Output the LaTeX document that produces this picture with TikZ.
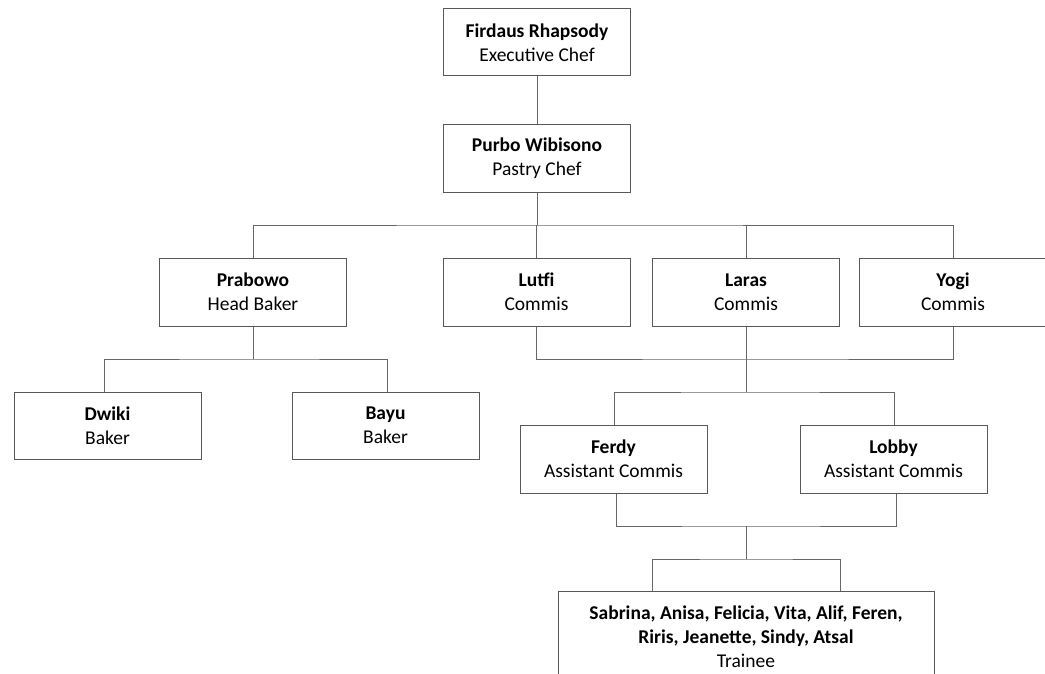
\documentclass[tikz,border=0pt]{standalone}
\usepackage{fontspec}
\setmainfont{Carlito}
\begin{document}
\begin{tikzpicture}[x=1pt,y=-1pt,
  box/.style={draw=black!65, line width=1pt, fill=white, minimum width=187pt, minimum height=68pt, inner sep=0pt, align=center, font=\fontsize{19.5}{24}\selectfont},
  link/.style={draw=black!60, line width=1pt}]
\useasboundingbox (0,0) rectangle (1045,674);
\clip (0,0) rectangle (1045,674);
\node[box, minimum height=67pt] (fir) at (537,42.5) {\textbf{Firdaus Rhapsody}\\Executive Chef};
\node[box] (pur) at (537,158.5) {\textbf{Purbo Wibisono}\\Pastry Chef};
\node[box] (pra) at (253,292) {\textbf{Prabowo}\\Head Baker};
\node[box] (lut) at (536.5,292) {\textbf{Lutfi}\\Commis};
\node[box] (lar) at (746,292) {\textbf{Laras}\\Commis};
\node[box] (yog) at (953,292) {\textbf{Yogi}\\Commis};
\node[box, minimum height=67pt] (dwi) at (107.5,425.5) {\textbf{Dwiki}\\Baker};
\node[box, minimum height=67pt] (bay) at (385.5,425.5) {\textbf{Bayu}\\Baker};
\node[box] (fer) at (613.5,459) {\textbf{Ferdy}\\Assistant Commis};
\node[box] (lob) at (893.5,459) {\textbf{Lobby}\\Assistant Commis};
\node[box, minimum width=376pt, minimum height=92pt] (tra) at (746,637) {\textbf{Sabrina, Anisa, Felicia, Vita, Alif, Feren,}\\\textbf{Riris, Jeanette, Sindy, Atsal}\\Trainee};
% connectors
\draw[link] (fir.south) -- (pur.north);
\coordinate (j1) at (537,225);
\draw[link] (pur.south) -- (j1);
\draw[link] (pra.north) |- (j1) -| (yog.north);
\draw[link] (lut.north) -- (lut.north |- j1);
\draw[link] (lar.north) -- (lar.north |- j1);
\coordinate (j2) at (253,359);
\draw[link] (pra.south) -- (j2);
\draw[link] ([xshift=-3.5pt]dwi.north) |- (j2) -| ([xshift=1.5pt]bay.north);
\coordinate (j3) at (746,359);
\draw[link] (lut.south) |- (j3) -| (yog.south);
\coordinate (j4) at (746,392);
\draw[link] (lar.south) -- (j4);
\draw[link] ([xshift=0.5pt]fer.north) |- (j4) -| ([xshift=0.5pt]lob.north);
\coordinate (j5) at (746,526);
\draw[link] ([xshift=2.5pt]fer.south) |- (j5) -| ([xshift=3pt]lob.south);
\coordinate (j6) at (746,559);
\draw[link] (j5) -- (j6);
\draw[link] ([xshift=-94pt]tra.north) |- (j6) -| ([xshift=94pt]tra.north);
\end{tikzpicture}
\end{document}
